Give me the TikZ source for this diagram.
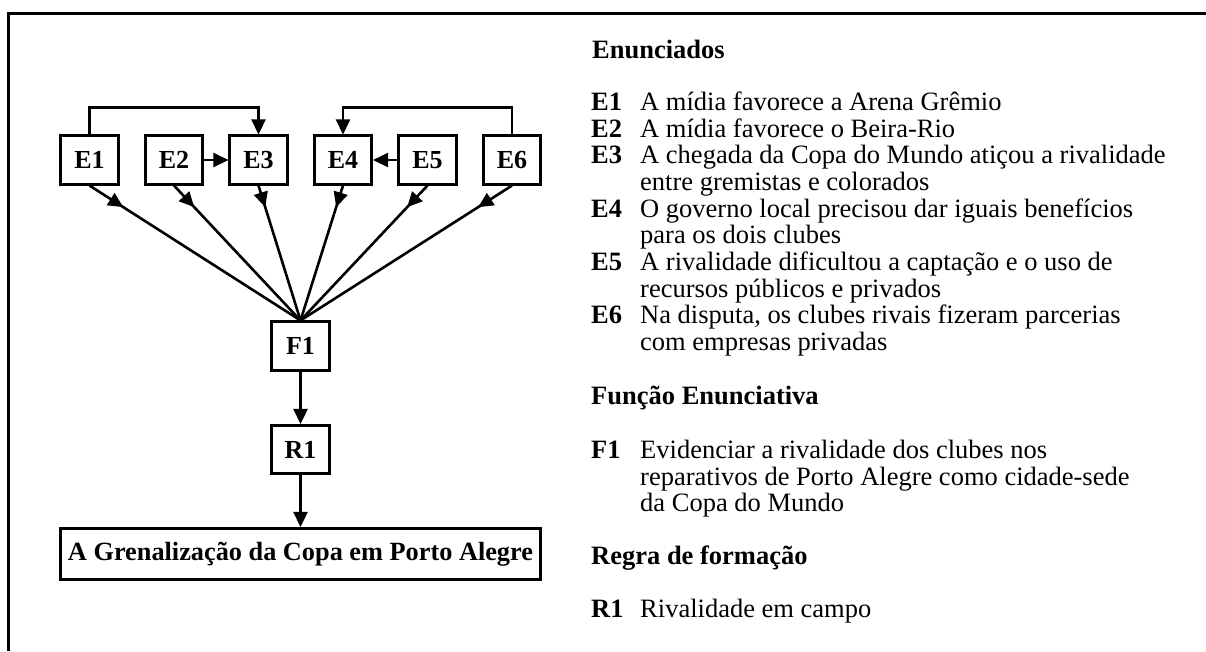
\documentclass[tikz,border=0pt]{standalone}
\usepackage{fontspec}
\setmainfont{Liberation Serif}
\usetikzlibrary{arrows.meta,decorations.markings}
\begin{document}
\begin{tikzpicture}[x=1pt,y=-1pt,
  box/.style={draw,line width=2.6pt,minimum width=57.5pt,minimum height=48.5pt,inner sep=0pt,
    font=\fontsize{26}{30}\selectfont\bfseries},
  link/.style={line width=2.6pt},
  tipend/.style={-{Triangle[length=15pt,width=14pt]}},
  fan/.style={link,postaction={decorate},decoration={markings,
    mark=at position 0.16 with {\arrow{Triangle[length=15pt,width=14pt]}}}},
  lab/.style={anchor=base west,inner sep=0pt,font=\fontsize{26.5}{26.7}\selectfont\bfseries},
  txt/.style={anchor=base west,inner sep=0pt,font=\fontsize{26.5}{26.7}\selectfont},
  head/.style={anchor=base west,inner sep=0pt,font=\fontsize{26.5}{26.7}\selectfont\bfseries}
]
\useasboundingbox (0,0) rectangle (1206,651);
% frame (top and left only)
\draw[line width=2.9pt] (8.5,651) -- (8.5,13.5) -- (1206,13.5);

% diagram boxes
\node[box] (E1) at (89.5,160) {E1};
\node[box] (E2) at (174,160) {E2};
\node[box] (E3) at (258.5,160) {E3};
\node[box] (E4) at (343,160) {E4};
\node[box] (E5) at (427.5,160) {E5};
\node[box] (E6) at (512,160) {E6};
\node[box] (F1) at (300.5,346) {F1};
\node[box] (R1) at (300.5,449.5) {R1};
\node[box,minimum width=479.5pt,minimum height=51.5pt,font=\fontsize{26.3}{30}\selectfont\bfseries] (G) at (300.5,554) {A Grenalização da Copa em Porto Alegre};

% connectors
\draw[link,tipend] (E1.north) -- ++(0,-27) -| (E3.north);
\draw[link,tipend] (E6.north) -- ++(0,-27) -| (E4.north);
\draw[link,tipend] (E2.east) -- (E3.west);
\draw[link,tipend] (E5.west) -- (E4.east);
\foreach \e in {E1,E2,E3,E4,E5,E6}
  \draw[fan] (\e.south) -- (F1.north);
\draw[link,tipend] (F1.south) -- (R1.north);
\draw[link,tipend] (R1.south) -- (G.north);

% right-hand text
\node[head] (hE) at (592,58) {Enunciados};
\node[lab] (l1) at (591,110) {E1};
\node[txt] (t1) at (640,110) {A mídia favorece a Arena Grêmio};
\node[lab] (l2) at (591,137) {E2};
\node[txt] (t2) at (640,137) {A mídia favorece o Beira-Rio};
\node[lab] (l3) at (591,163.5) {E3};
\node[txt] (t3) at (640,163.5) {A chegada da Copa do Mundo atiçou a rivalidade};
\node[txt] (t3b) at (640,190) {entre gremistas e colorados};
\node[lab] (l4) at (591,217) {E4};
\node[txt] (t4) at (640,217) {O governo local precisou dar iguais benefícios};
\node[txt] (t4b) at (640,243.5) {para os dois clubes};
\node[lab] (l5) at (591,270) {E5};
\node[txt] (t5) at (640,270) {A rivalidade dificultou a captação e o uso de};
\node[txt] (t5b) at (640,297) {recursos públicos e privados};
\node[lab] (l6) at (591,323.5) {E6};
\node[txt] (t6) at (640,323.5) {Na disputa, os clubes rivais fizeram parcerias};
\node[txt] (t6b) at (640,350) {com empresas privadas};

\node[head] (hF) at (591,404) {Função Enunciativa};
\node[lab] (lf) at (591,458) {F1};
\node[txt] (tf) at (640,458) {Evidenciar a rivalidade dos clubes nos};
\node[txt] (tfb) at (640,485) {reparativos de Porto Alegre como cidade-sede};
\node[txt] (tfc) at (640,511.5) {da Copa do Mundo};

\node[head] (hR) at (591,564) {Regra de formação};
\node[lab] (lr) at (591,617) {R1};
\node[txt] (tr) at (640,617) {Rivalidade em campo};
\end{tikzpicture}
\end{document}
